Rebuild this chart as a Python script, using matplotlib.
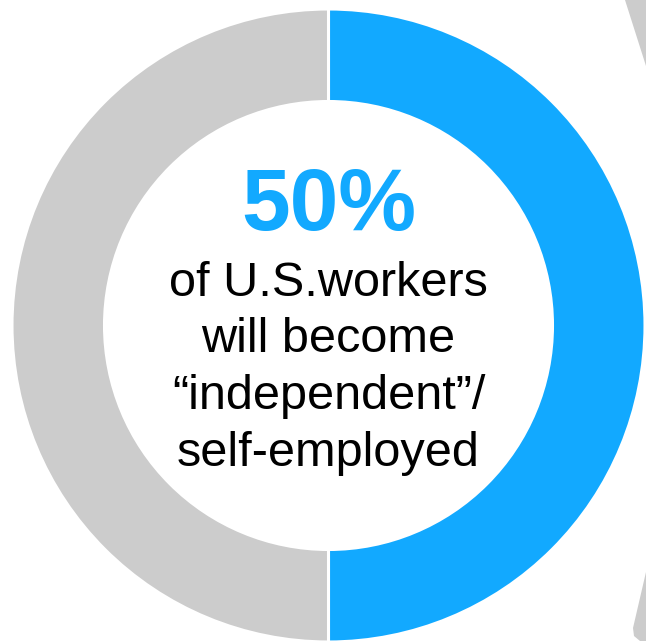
import matplotlib
matplotlib.use("Agg")
import matplotlib.pyplot as plt
from matplotlib.patches import Polygon

# share of U.S. workers becoming independent vs. the rest
shares = [50, 50]
colors = ["#12A9FF", "#CCCCCC"]
headline = "50%"
body_lines = ["of U.S.workers", "will become", "\u201cindependent\u201d/", "self-employed"]

W, H = 646, 641
fig = plt.figure(figsize=(W / 100, H / 100), dpi=100)
ax = fig.add_axes([0, 0, 1, 1])

cx, cy = 328.5, H - 325.5
outer_r, ring_w = 316.5, 92.5

ax.pie(shares, colors=colors, startangle=90, counterclock=False,
       center=(cx, cy), radius=outer_r, frame=True,
       wedgeprops=dict(width=ring_w, edgecolor="white", linewidth=2.2))
ax.set_xlim(0, W)
ax.set_ylim(0, H)
ax.set_aspect("equal")
ax.axis("off")

# edges of the neighbouring grey shape cut off at the right border
edge_top = [(625, H), (W, H), (W, H - 66)]
edge_bottom = [(W, H - 572), (633, H - 628), (634, H - 636), (640, H - 641), (W, H - 641)]
for pts in (edge_top, edge_bottom):
    ax.add_patch(Polygon(pts, closed=True, facecolor="#CCCCCC", edgecolor="none"))

font = "Liberation Sans"
ax.text(cx, H - 230, headline, ha="center", va="baseline", fontsize=63,
        fontweight="bold", color=colors[0], family=font)

y0, pitch = 296, 56.5
for i, line in enumerate(body_lines):
    ax.text(cx, H - (y0 + i * pitch), line, ha="center", va="baseline",
            fontsize=35, color="black", family=font)

fig.savefig("out.png", dpi=100)
